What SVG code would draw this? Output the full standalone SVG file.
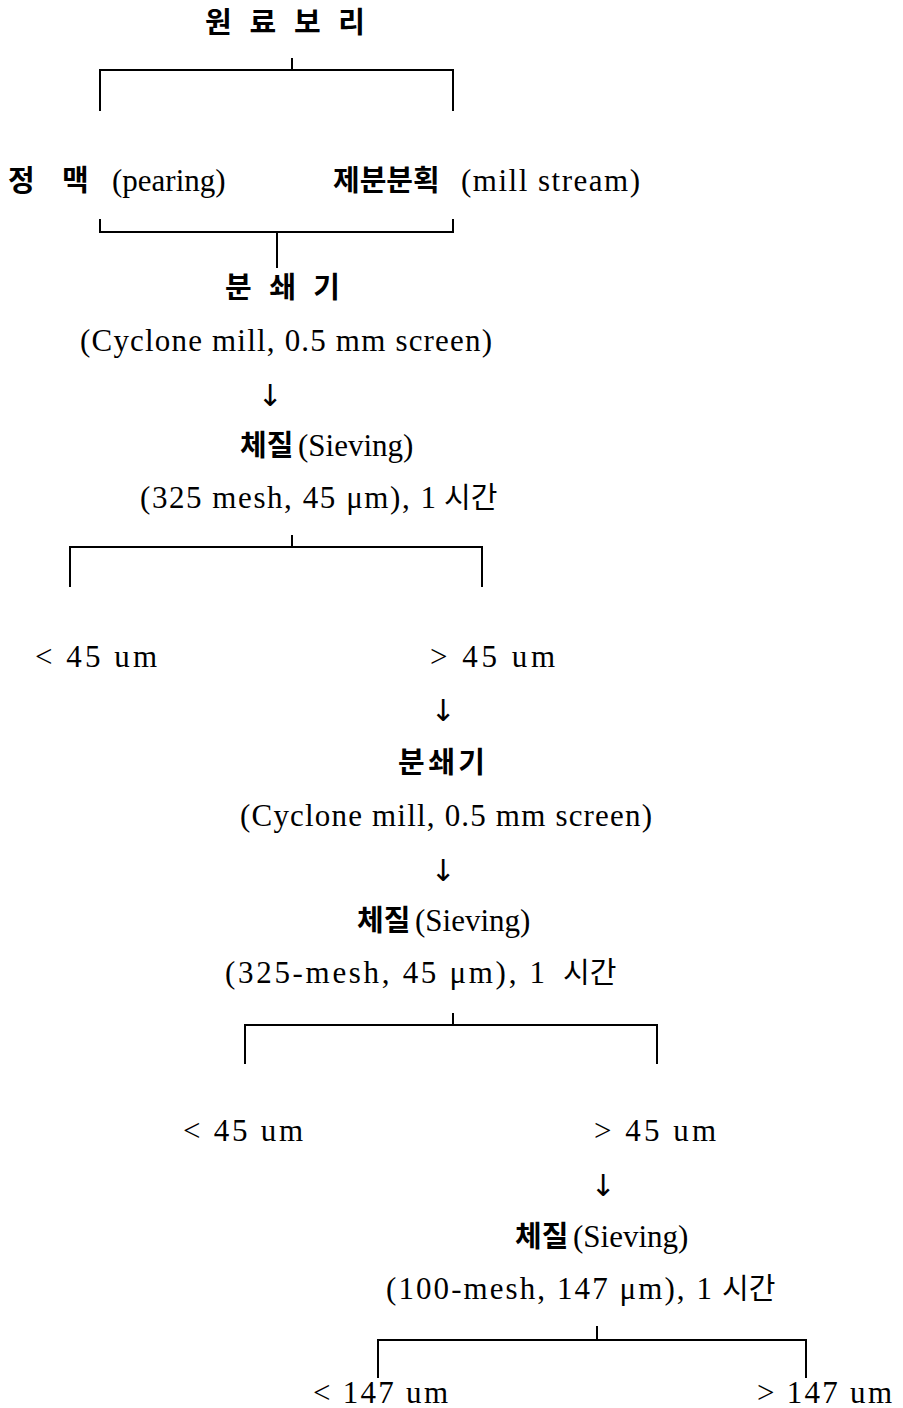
<svg xmlns="http://www.w3.org/2000/svg" width="903" height="1408" viewBox="0 0 903 1408">
<style>
text{font-family:"Liberation Serif","Noto Sans CJK KR",serif;font-size:31px;fill:#000}
.k{font-family:"Noto Sans CJK KR",sans-serif;font-weight:bold;font-size:29px}
.kr{font-family:"Noto Sans CJK KR",sans-serif;font-size:29px}
.ar{font-family:"DejaVu Sans",sans-serif;font-size:30px}
.c path{fill:none;stroke:#000;stroke-width:2}
</style>
<rect width="903" height="1408" fill="#fff"/>
<g class="c" id="connectors">
<path d="M292 58V70M100 111V70H453V111"/>
<path d="M100 219V232H453V219M277 232V268"/>
<path d="M292 535V547M70 587V547H482V587"/>
<path d="M453 1013V1025M245 1064V1025H657V1064"/>
<path d="M597 1326V1340M378 1378V1340H806V1378"/>
</g>
<g id="n1"><text class="k" x="205" y="33" textLength="160" lengthAdjust="spacing">원 료 보 리</text></g>
<g id="n2"><text y="191"><tspan class="k" x="8">정</tspan><tspan class="k" x="62">맥</tspan><tspan x="112">(pearing)</tspan></text></g>
<g id="n3"><text y="191"><tspan class="k" x="333">제분분획</tspan><tspan x="461" textLength="179" lengthAdjust="spacing">(mill stream)</tspan></text></g>
<g id="n4"><text class="k" x="225" y="298" textLength="115" lengthAdjust="spacing">분 쇄 기</text>
<text x="80" y="351" textLength="412" lengthAdjust="spacing">(Cyclone mill, 0.5 mm screen)</text></g>
<g id="a1"><text class="ar" x="270" y="406" text-anchor="middle">↓</text></g>
<g id="n5"><text y="456"><tspan class="k" x="240">체질</tspan><tspan x="298">(Sieving)</tspan></text>
<text y="508"><tspan x="140" textLength="296" lengthAdjust="spacing">(325 mesh, 45 μm), 1</tspan><tspan class="kr" x="444">시간</tspan></text></g>
<g id="n6"><text x="35" y="667" textLength="122" lengthAdjust="spacing">&lt; 45 um</text></g>
<g id="n7"><text x="430" y="667" textLength="125" lengthAdjust="spacing">&gt; 45 um</text></g>
<g id="a2"><text class="ar" x="443" y="721" text-anchor="middle">↓</text></g>
<g id="n8"><text class="k" x="398" y="773" textLength="87" lengthAdjust="spacing">분쇄기</text>
<text x="240" y="826" textLength="412" lengthAdjust="spacing">(Cyclone mill, 0.5 mm screen)</text></g>
<g id="a3"><text class="ar" x="443" y="881" text-anchor="middle">↓</text></g>
<g id="n9"><text y="931"><tspan class="k" x="357">체질</tspan><tspan x="415">(Sieving)</tspan></text>
<text y="983"><tspan x="225" textLength="320" lengthAdjust="spacing">(325-mesh, 45 μm), 1</tspan><tspan class="kr" x="563">시간</tspan></text></g>
<g id="n10"><text x="183" y="1141" textLength="120" lengthAdjust="spacing">&lt; 45 um</text></g>
<g id="n11"><text x="594" y="1141" textLength="122" lengthAdjust="spacing">&gt; 45 um</text></g>
<g id="a4"><text class="ar" x="603" y="1196" text-anchor="middle">↓</text></g>
<g id="n12"><text y="1247"><tspan class="k" x="515">체질</tspan><tspan x="573">(Sieving)</tspan></text>
<text y="1299"><tspan x="386" textLength="326" lengthAdjust="spacing">(100-mesh, 147 μm), 1</tspan><tspan class="kr" x="722">시간</tspan></text></g>
<g id="n13"><text x="313" y="1403" textLength="135" lengthAdjust="spacing">&lt; 147 um</text></g>
<g id="n14"><text x="757" y="1403" textLength="135" lengthAdjust="spacing">&gt; 147 um</text></g>
</svg>
